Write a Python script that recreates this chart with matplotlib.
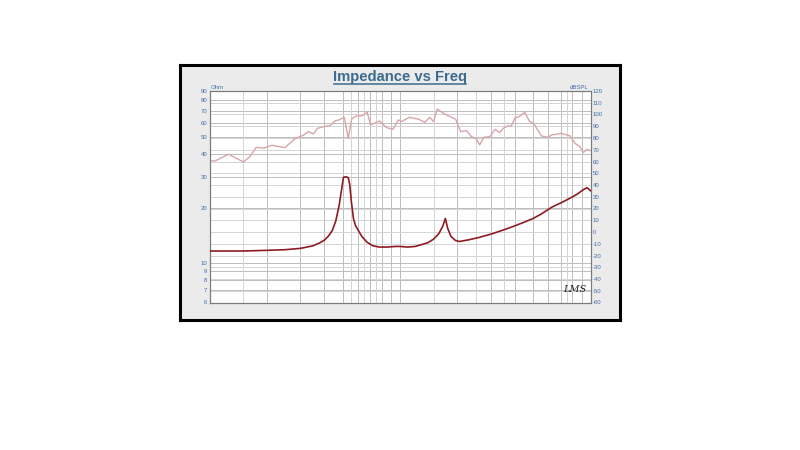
import matplotlib
matplotlib.use("Agg")
import matplotlib.pyplot as plt
from matplotlib.lines import Line2D
from matplotlib.ticker import NullLocator

# ---------------- data ----------------
imp_freq = [100, 150, 200, 250, 300, 350, 380, 400, 420, 440, 460, 480, 495, 505, 520, 535,
            545, 555, 570, 585, 600, 630, 670, 720, 780, 850, 950, 1000, 1100, 1200, 1300,
            1400, 1500, 1600, 1680, 1730, 1780, 1850, 1950, 2050, 2300, 2600, 3000, 3500,
            4000, 4500, 5000, 5500, 6300, 7000, 7800, 8500, 9200, 9600, 10000]
imp_ohm = [11.6, 11.6, 11.7, 11.8, 12.0, 12.4, 12.9, 13.3, 14.0, 15.0, 17.0, 21.0, 26.0, 29.8,
           30.0, 29.7, 27.0, 22.0, 17.5, 16.0, 15.3, 14.0, 13.0, 12.4, 12.2, 12.2, 12.3, 12.3,
           12.2, 12.3, 12.6, 12.9, 13.5, 14.5, 16.0, 17.6, 15.5, 14.0, 13.3, 13.1, 13.4, 13.8,
           14.4, 15.2, 16.0, 16.8, 17.6, 18.6, 20.4, 21.5, 22.8, 24.0, 25.5, 26.1, 25.1]

spl_freq = [100, 107, 126, 136, 151, 163, 176, 192, 212, 249, 281, 311, 330, 351, 370, 413,
            429, 455, 480, 510, 535, 557, 590, 630, 673, 700, 780, 850, 920, 980, 1020, 1120,
            1250, 1350, 1430, 1500, 1570, 1690, 1830, 1960, 2080, 2230, 2370, 2520, 2620,
            2750, 2960, 3160, 3330, 3490, 3680, 3840, 4010, 4220, 4520, 4790, 5000, 5520,
            5980, 6250, 6730, 7010, 7800, 8280, 8790, 9150, 9590, 10000]
spl_db = [60.5, 60.5, 66.2, 63.3, 59.6, 64.2, 72.1, 71.3, 73.8, 71.8, 79.5, 82.3, 85.4, 83.5,
          88.3, 90.3, 90.3, 94.5, 95.5, 97.6, 79.8, 96.0, 98.8, 98.8, 101.9, 91.1, 94.5, 88.8,
          87.4, 95.4, 94.0, 97.6, 96.0, 93.4, 97.6, 94.0, 104.7, 101.0, 98.2, 96.0, 85.4,
          86.3, 81.2, 79.2, 74.1, 80.6, 81.2, 87.4, 84.6, 88.3, 90.3, 90.3, 96.8, 98.2, 101.9,
          94.0, 93.1, 81.8, 80.6, 82.6, 83.4, 84.0, 81.8, 75.5, 72.7, 67.6, 70.4, 69.3]

left_ticks = [6, 7, 8, 9, 10, 20, 30, 40, 50, 60, 70, 80, 90]
right_ticks = list(range(-60, 121, 10))
x_ticks = [100, 200, 500, 1000, 2000, 5000, 10000]
x_labels = ["100  Hz", "200", "500", "1K", "2K", "5K", "10K"]
x_grid_main = [200, 300, 400, 500, 600, 700, 800, 900, 1000, 2000, 3000, 4000, 5000,
               6000, 7000, 8000, 9000]
x_grid_extra = [150, 550, 650, 750, 1500, 2500, 3500, 7500]

title = "Impedance vs Freq"

# ---------------- figure ----------------
W, H = 800, 450
fig = plt.figure(figsize=(8, 4.5), dpi=100)
fig.patch.set_facecolor("white")

def fx(px):
    return px / W

def fy(py):
    return 1 - py / H

# outer grey panel
bg = fig.add_axes([fx(180), fy(320), fx(620) - fx(180), fy(65) - fy(320)])
bg.set_zorder(-10)
bg.set_facecolor("#ebebeb")
bg.set_xticks([])
bg.set_yticks([])
for s in bg.spines.values():
    s.set_color("black")
    s.set_linewidth(2.2)

left, right, top, bottom = 209.5, 590.5, 91, 302.5
rect = [fx(left), fy(bottom), fx(right) - fx(left), fy(top) - fy(bottom)]
ax = fig.add_axes(rect)
ax2 = ax.twinx()
ax.set_zorder(1)
ax2.set_zorder(2)
ax.set_facecolor("white")
ax2.patch.set_visible(False)

ax.set_xscale("log")
ax.set_yscale("log")
ax.set_xlim(100, 10000)
ax.set_ylim(6, 90)
ax2.set_ylim(-60, 120)

grid_c = "#d4d4d4"
grid_d = "#bcbcbc"
glw = 0.7
for v in left_ticks[1:-1]:
    ax.axhline(v, color=grid_d, lw=glw, zorder=0)
for v in right_ticks[1:-1]:
    ax2.axhline(v, color=grid_c, lw=glw, zorder=0)
for v in x_grid_main:
    ax.axvline(v, color=grid_d, lw=glw, zorder=0)
for v in x_grid_extra:
    ax.axvline(v, color=grid_c, lw=glw, zorder=0)

# SPL curve (right axis)
ax2.plot(spl_freq, spl_db, color="#d8a6a9", lw=1.0, zorder=2)

# impedance curve on top (left axis scale)
imp_ax = fig.add_axes(rect, sharex=ax, sharey=ax, zorder=3)
imp_ax.patch.set_visible(False)
imp_ax.axis("off")
imp_ax.plot(imp_freq, imp_ohm, color="#8e1b22", lw=1.2)
imp_ax.set_xlim(100, 10000)
imp_ax.set_ylim(6, 90)

for a in (ax, ax2):
    for s in a.spines.values():
        s.set_color("#7a7a7a")
        s.set_linewidth(0.8)
    a.tick_params(length=0, pad=1.5)

blue = "#3f6fa8"
red = "#c2275a"
ax.yaxis.set_minor_locator(NullLocator())
ax.xaxis.set_minor_locator(NullLocator())
ax.set_yticks(left_ticks)
ax.set_yticklabels([str(v) for v in left_ticks], fontsize=4.3, color=blue,
                   family="Liberation Sans")
ax2.set_yticks(right_ticks)
ax2.set_yticklabels([str(v) for v in right_ticks], fontsize=4.3, color=blue,
                    family="Liberation Sans")
ax.set_xticks(x_ticks)
ax.set_xticklabels(x_labels, fontsize=4.3, color=red, family="Liberation Sans",
                   fontweight="bold")
ax.tick_params(axis="x", pad=2.5)
ax.get_xticklabels()[0].set_horizontalalignment("left")
ax2.set_xticks([])

fig.text(fx(211), fy(87.5), "Ohm", fontsize=4.3, color=blue, family="Liberation Sans",
         ha="left", va="center")
fig.text(fx(589), fy(87.5), "dBSPL", fontsize=4.3, color=blue, family="Liberation Sans",
         ha="right", va="center")

imp_ax.text(8300, 7.05, "LMS", fontsize=7, style="italic", family="DejaVu Serif",
            color="#222222", ha="center", va="center")

t = fig.text(0.5, fy(77), title, fontsize=10.6, fontweight="bold", color="#3b6c8e",
             family="Liberation Sans", ha="center", va="center")
fig.canvas.draw()
bb = t.get_window_extent(fig.canvas.get_renderer()).transformed(fig.transFigure.inverted())
fig.add_artist(Line2D([bb.x0 + 0.001, bb.x1 - 0.001], [bb.y0 + 0.001, bb.y0 + 0.001],
                      transform=fig.transFigure, color="#3b6c8e", lw=1.1))

fig.savefig("out.png", dpi=100)
